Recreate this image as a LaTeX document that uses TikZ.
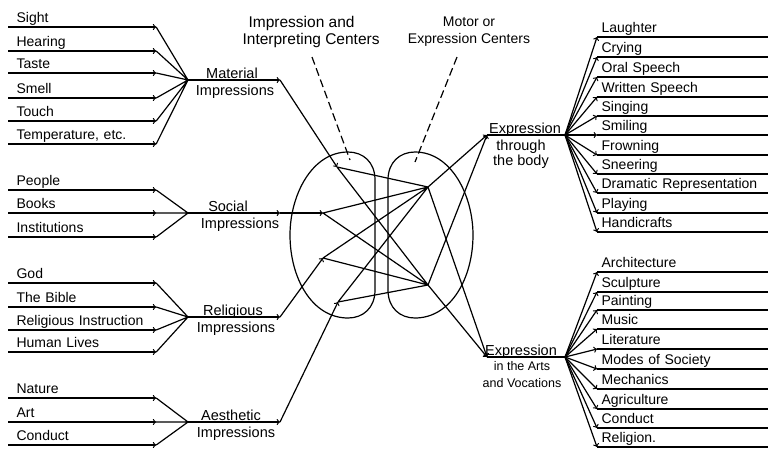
\documentclass[tikz,border=0pt]{standalone}
\usepackage{fontspec}
\setmainfont{Liberation Sans}
\usetikzlibrary{arrows, positioning}
\tikzstyle{litem} = [anchor=south west, inner xsep=8pt, inner ysep=1pt, text width=131pt, text height=10pt, text depth=3pt, align=left, font=\fontsize{14}{16}\selectfont]
\tikzstyle{ritem} = [anchor=south west, inner xsep=4pt, inner ysep=1pt, text width=162pt, text height=10pt, text depth=3pt, align=left, font=\fontsize{14}{16}\selectfont]
\tikzstyle{over} = [anchor=south, inner sep=1pt, text depth=0pt]
\tikzstyle{under} = [anchor=north, inner xsep=1pt, inner ysep=4pt, align=center]
\tikzstyle{arrow} = [->, >=to]
\tikzstyle{pointer} = [dash pattern=on 8pt off 4pt]

\begin{document}
\begin{tikzpicture}[x=1pt, y=-1pt, line width=1.2pt, font=\fontsize{14.5}{17}\selectfont]
    \useasboundingbox (0,0) rectangle (770,451);

    % Left items
    \node (sight) [litem] at (8,27) {Sight};
    \node (hearing) [litem] at (8,51) {Hearing};
    \node (taste) [litem] at (8,73) {Taste};
    \node (smell) [litem] at (8,98) {Smell};
    \node (touch) [litem] at (8,121) {Touch};
    \node (temp) [litem] at (8,144) {Temperature, etc.};

    \node (people) [litem] at (8,190) {People};
    \node (books) [litem] at (8,213) {Books};
    \node (inst) [litem] at (8,237) {Institutions};

    \node (god) [litem] at (8,283) {God};
    \node (bible) [litem] at (8,307) {The Bible};
    \node (instr) [litem] at (8,330) {Religious Instruction};
    \node (lives) [litem] at (8,352) {Human Lives};

    \node (nature) [litem] at (8,398) {Nature};
    \node (art) [litem] at (8,422) {Art};
    \node (conduct) [litem] at (8,445) {Conduct};

    % Impressions
    \coordinate (mat) at (188,80);
    \coordinate (matE) at (280,80);
    \coordinate (soc) at (188,213);
    \coordinate (socE) at (280,213);
    \coordinate (rel) at (188,317);
    \coordinate (relE) at (280,317);
    \coordinate (aes) at (188,422);
    \coordinate (aesE) at (280,422);

    \node (matA) [over] at (232,80) {Material};
    \node (matB) [under] at (235,80) {Impressions};
    \node (socA) [over] at (228,213) {Social};
    \node (socB) [under] at (240,213) {Impressions};
    \node (relA) [over] at (233,317) {Religious};
    \node (relB) [under] at (236,317) {Impressions};
    \node (aesA) [over] at (231,422) {Aesthetic};
    \node (aesB) [under] at (236,422) {Impressions};

    % Centers
    \coordinate (p1) at (337,167);
    \coordinate (p2) at (323,213);
    \coordinate (p3) at (323,258);
    \coordinate (p4) at (338,302);
    \coordinate (q1) at (428,187);
    \coordinate (q2) at (428,285);

    \node (impLbl) [align=left, anchor=north west, inner sep=0pt, font=\fontsize{15.5}{17}\selectfont] at (242,16) {\hspace{6pt}Impression and\\Interpreting Centers};
    \node (motLbl) [align=center, anchor=north, inner sep=0pt, font=\fontsize{14}{17}\selectfont] at (469,16) {Motor or\\Expression Centers};
    \coordinate (impTop) at (312,57);
    \coordinate (impEnd) at (350,160);
    \coordinate (motTop) at (457,57);
    \coordinate (motEnd) at (415,162);

    % Expression
    \coordinate (bodyW) at (487,135);
    \coordinate (body) at (565,135);
    \coordinate (artsW) at (487,357);
    \coordinate (arts) at (565,357);

    \node (bodyA) [over] at (525,135) {Expression};
    \node (bodyB) [under, font=\fontsize{14.5}{15.5}\selectfont] at (521,135) {through\\the body};
    \node (artsA) [over] at (521,357) {Expression};
    \node (artsB) [under, font=\fontsize{12.5}{17}\selectfont] at (522,357) {in the Arts\\and Vocations};

    % Right items
    \node (laugh) [ritem] at (597,37) {Laughter};
    \node (cry) [ritem] at (597,57) {Crying};
    \node (oral) [ritem] at (597,77) {Oral Speech};
    \node (written) [ritem] at (597,97) {Written Speech};
    \node (sing) [ritem] at (597,116) {Singing};
    \node (smile) [ritem] at (597,135) {Smiling};
    \node (frown) [ritem] at (597,155) {Frowning};
    \node (sneer) [ritem] at (597,174) {Sneering};
    \node (drama) [ritem] at (597,193) {Dramatic Representation};
    \node (play) [ritem] at (597,213) {Playing};
    \node (craft) [ritem] at (597,232) {Handicrafts};

    \node (archi) [ritem] at (597,272) {Architecture};
    \node (sculpt) [ritem] at (597,292) {Sculpture};
    \node (paint) [ritem] at (597,310) {Painting};
    \node (music) [ritem] at (597,329) {Music};
    \node (lit) [ritem] at (597,349) {Literature};
    \node (modes) [ritem] at (597,369) {Modes of Society};
    \node (mech) [ritem] at (597,389) {Mechanics};
    \node (agri) [ritem] at (597,409) {Agriculture};
    \node (conductR) [ritem] at (597,428) {Conduct};
    \node (relig) [ritem] at (597,447) {Religion.};

    % Center shapes
    \draw (375,235) -- (375,180) .. controls (375,162) and (363,152) .. (348,152)
        .. controls (312,152) and (290,195) .. (290,235)
        .. controls (290,278) and (312,318) .. (348,318)
        .. controls (363,318) and (375,308) .. (375,290) -- cycle;
    \draw (388,235) -- (388,180) .. controls (388,162) and (400,152) .. (415,152)
        .. controls (451,152) and (473,195) .. (473,235)
        .. controls (473,278) and (451,318) .. (415,318)
        .. controls (400,318) and (388,308) .. (388,290) -- cycle;
    \draw [pointer] (impTop) -- (impEnd);
    \draw [pointer] (motTop) -- (motEnd);

    % Arrows, left
    \draw [arrow] (sight.south west) -- (sight.south east);
    \draw [arrow] (hearing.south west) -- (hearing.south east);
    \draw [arrow] (taste.south west) -- (taste.south east);
    \draw [arrow] (smell.south west) -- (smell.south east);
    \draw [arrow] (touch.south west) -- (touch.south east);
    \draw [arrow] (temp.south west) -- (temp.south east);
    \draw [arrow] (people.south west) -- (people.south east);
    \draw [arrow] (books.south west) -- (books.south east);
    \draw [arrow] (inst.south west) -- (inst.south east);
    \draw [arrow] (god.south west) -- (god.south east);
    \draw [arrow] (bible.south west) -- (bible.south east);
    \draw [arrow] (instr.south west) -- (instr.south east);
    \draw [arrow] (lives.south west) -- (lives.south east);
    \draw [arrow] (nature.south west) -- (nature.south east);
    \draw [arrow] (art.south west) -- (art.south east);
    \draw [arrow] (conduct.south west) -- (conduct.south east);

    \draw (sight.south east) -- (mat) (hearing.south east) -- (mat)
        (taste.south east) -- (mat) (smell.south east) -- (mat)
        (touch.south east) -- (mat) (temp.south east) -- (mat);
    \draw (people.south east) -- (soc) (books.south east) -- (soc) (inst.south east) -- (soc);
    \draw (god.south east) -- (rel) (bible.south east) -- (rel)
        (instr.south east) -- (rel) (lives.south east) -- (rel);
    \draw (nature.south east) -- (aes) (art.south east) -- (aes) (conduct.south east) -- (aes);

    \draw [arrow] (mat) -- (matE);
    \draw [arrow] (soc) -- (socE);
    \draw [arrow] (rel) -- (relE);
    \draw [arrow] (aes) -- (aesE);
    \draw [arrow] (matE) -- (p1);
    \draw [arrow] (socE) -- (p2);
    \draw [arrow] (relE) -- (p3);
    \draw [arrow] (aesE) -- (p4);

    % Arrows, center
    \draw (p1) -- (q1) (p1) -- (q2) (p2) -- (q1) (p2) -- (q2)
        (p3) -- (q1) (p3) -- (q2) (p4) -- (q1) (p4) -- (q2);
    \draw [arrow] (q1) -- (bodyW);
    \draw [arrow] (q2) -- (bodyW);
    \draw [arrow] (q1) -- (artsW);
    \draw [arrow] (q2) -- (artsW);
    \draw (bodyW) -- (body);
    \draw (artsW) -- (arts);

    % Arrows, right
    \draw [arrow] (body) -- (laugh.south west);
    \draw [arrow] (body) -- (cry.south west);
    \draw [arrow] (body) -- (oral.south west);
    \draw [arrow] (body) -- (written.south west);
    \draw [arrow] (body) -- (sing.south west);
    \draw [arrow] (body) -- (smile.south west);
    \draw [arrow] (body) -- (frown.south west);
    \draw [arrow] (body) -- (sneer.south west);
    \draw [arrow] (body) -- (drama.south west);
    \draw [arrow] (body) -- (play.south west);
    \draw [arrow] (body) -- (craft.south west);

    \draw [arrow] (arts) -- (archi.south west);
    \draw [arrow] (arts) -- (sculpt.south west);
    \draw [arrow] (arts) -- (paint.south west);
    \draw [arrow] (arts) -- (music.south west);
    \draw [arrow] (arts) -- (lit.south west);
    \draw [arrow] (arts) -- (modes.south west);
    \draw [arrow] (arts) -- (mech.south west);
    \draw [arrow] (arts) -- (agri.south west);
    \draw [arrow] (arts) -- (conductR.south west);
    \draw [arrow] (arts) -- (relig.south west);

    \draw (laugh.south west) -- (laugh.south east) (cry.south west) -- (cry.south east)
        (oral.south west) -- (oral.south east) (written.south west) -- (written.south east)
        (sing.south west) -- (sing.south east) (smile.south west) -- (smile.south east)
        (frown.south west) -- (frown.south east) (sneer.south west) -- (sneer.south east)
        (drama.south west) -- (drama.south east) (play.south west) -- (play.south east)
        (craft.south west) -- (craft.south east);
    \draw (archi.south west) -- (archi.south east) (sculpt.south west) -- (sculpt.south east)
        (paint.south west) -- (paint.south east) (music.south west) -- (music.south east)
        (lit.south west) -- (lit.south east) (modes.south west) -- (modes.south east)
        (mech.south west) -- (mech.south east) (agri.south west) -- (agri.south east)
        (conductR.south west) -- (conductR.south east) (relig.south west) -- (relig.south east);
\end{tikzpicture}
\end{document}
